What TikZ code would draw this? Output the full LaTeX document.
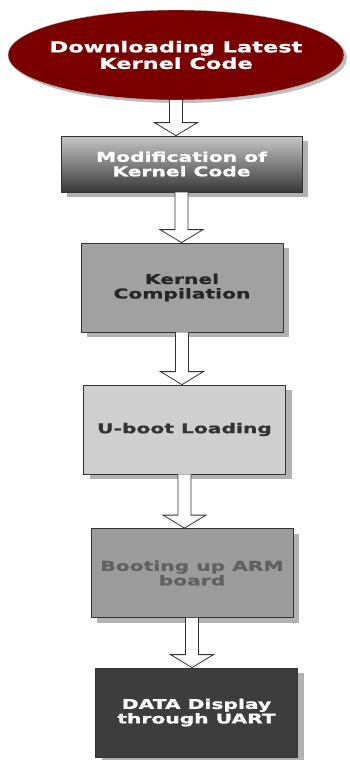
\documentclass[tikz,border=0pt]{standalone}
\usepackage{fontspec}
\newfontfamily\flowfont{DejaVu Sans}[FakeStretch=1.5, BoldFeatures={FakeBold=1}]
\usetikzlibrary{shapes.geometric,shadows,calc}
\definecolor{kernelred}{RGB}{122,0,0}
\begin{document}
\begin{tikzpicture}[x = 1pt, y = -1pt,
	flowbox/.style = {draw = black!80, line width = 0.8pt, rectangle, inner sep = 0pt, minimum width = 202pt, minimum height = 89pt, align = center, font = \flowfont\bfseries\fontsize{13.5}{14.5}\selectfont, drop shadow = {shadow xshift = 6pt, shadow yshift = -5pt, fill = black!30, opacity = 1}},
	hollow arrow/.style = {draw = black!80, line width = 0.8pt, fill = white, to path = {let \p1 = (\tikztostart), \p2 = (\tikztotarget) in (\x1-6.5pt,\y1) -- (\x1-6.5pt,\y2+13pt) -- (\x1-21.5pt,\y2+13pt) -- (\x1,\y2) -- (\x1+21.5pt,\y2+13pt) -- (\x1+6.5pt,\y2+13pt) -- (\x1+6.5pt,\y1)}}]
	\useasboundingbox (0,0) rectangle (350,760);
	\node [ellipse, draw = black!30, fill = kernelred, text = white, inner xsep = -40pt, inner ysep = 0pt, minimum width = 336pt, minimum height = 90pt, align = center, font = \flowfont\bfseries\fontsize{15}{16.5}\selectfont, drop shadow = {shadow xshift = 3pt, shadow yshift = -3pt, fill = black!25, opacity = 1}] (download) at (176,55) {Downloading Latest\\Kernel Code};
	\node [flowbox, minimum width = 241pt, minimum height = 56pt, top color = black!22, bottom color = black!78, text = white] (modify) at (181.5,164) {Modification of\\Kernel Code};
	\node [flowbox, fill = black!37, text = black!85] (compile) at (182,287.5) {Kernel\\Compilation};
	\node [flowbox, fill = black!19, text = black!80] (uboot) at (184.5,429.5) {U-boot Loading};
	\node [flowbox, fill = black!39, text = black!62] (boot) at (192,573) {Booting up ARM\\board};
	\node [flowbox, fill = black!76, text = white] (uart) at (196.5,712.5) {DATA Display\\through UART};
	\draw [hollow arrow] (download.south) to (modify.north);
	\draw [hollow arrow] (modify.south) to (compile.north);
	\draw [hollow arrow] (compile.south) to (uboot.north);
	\draw [hollow arrow] (uboot.south) to (boot.north);
	\draw [hollow arrow] (boot.south) to (uart.north);
\end{tikzpicture}
\end{document}
